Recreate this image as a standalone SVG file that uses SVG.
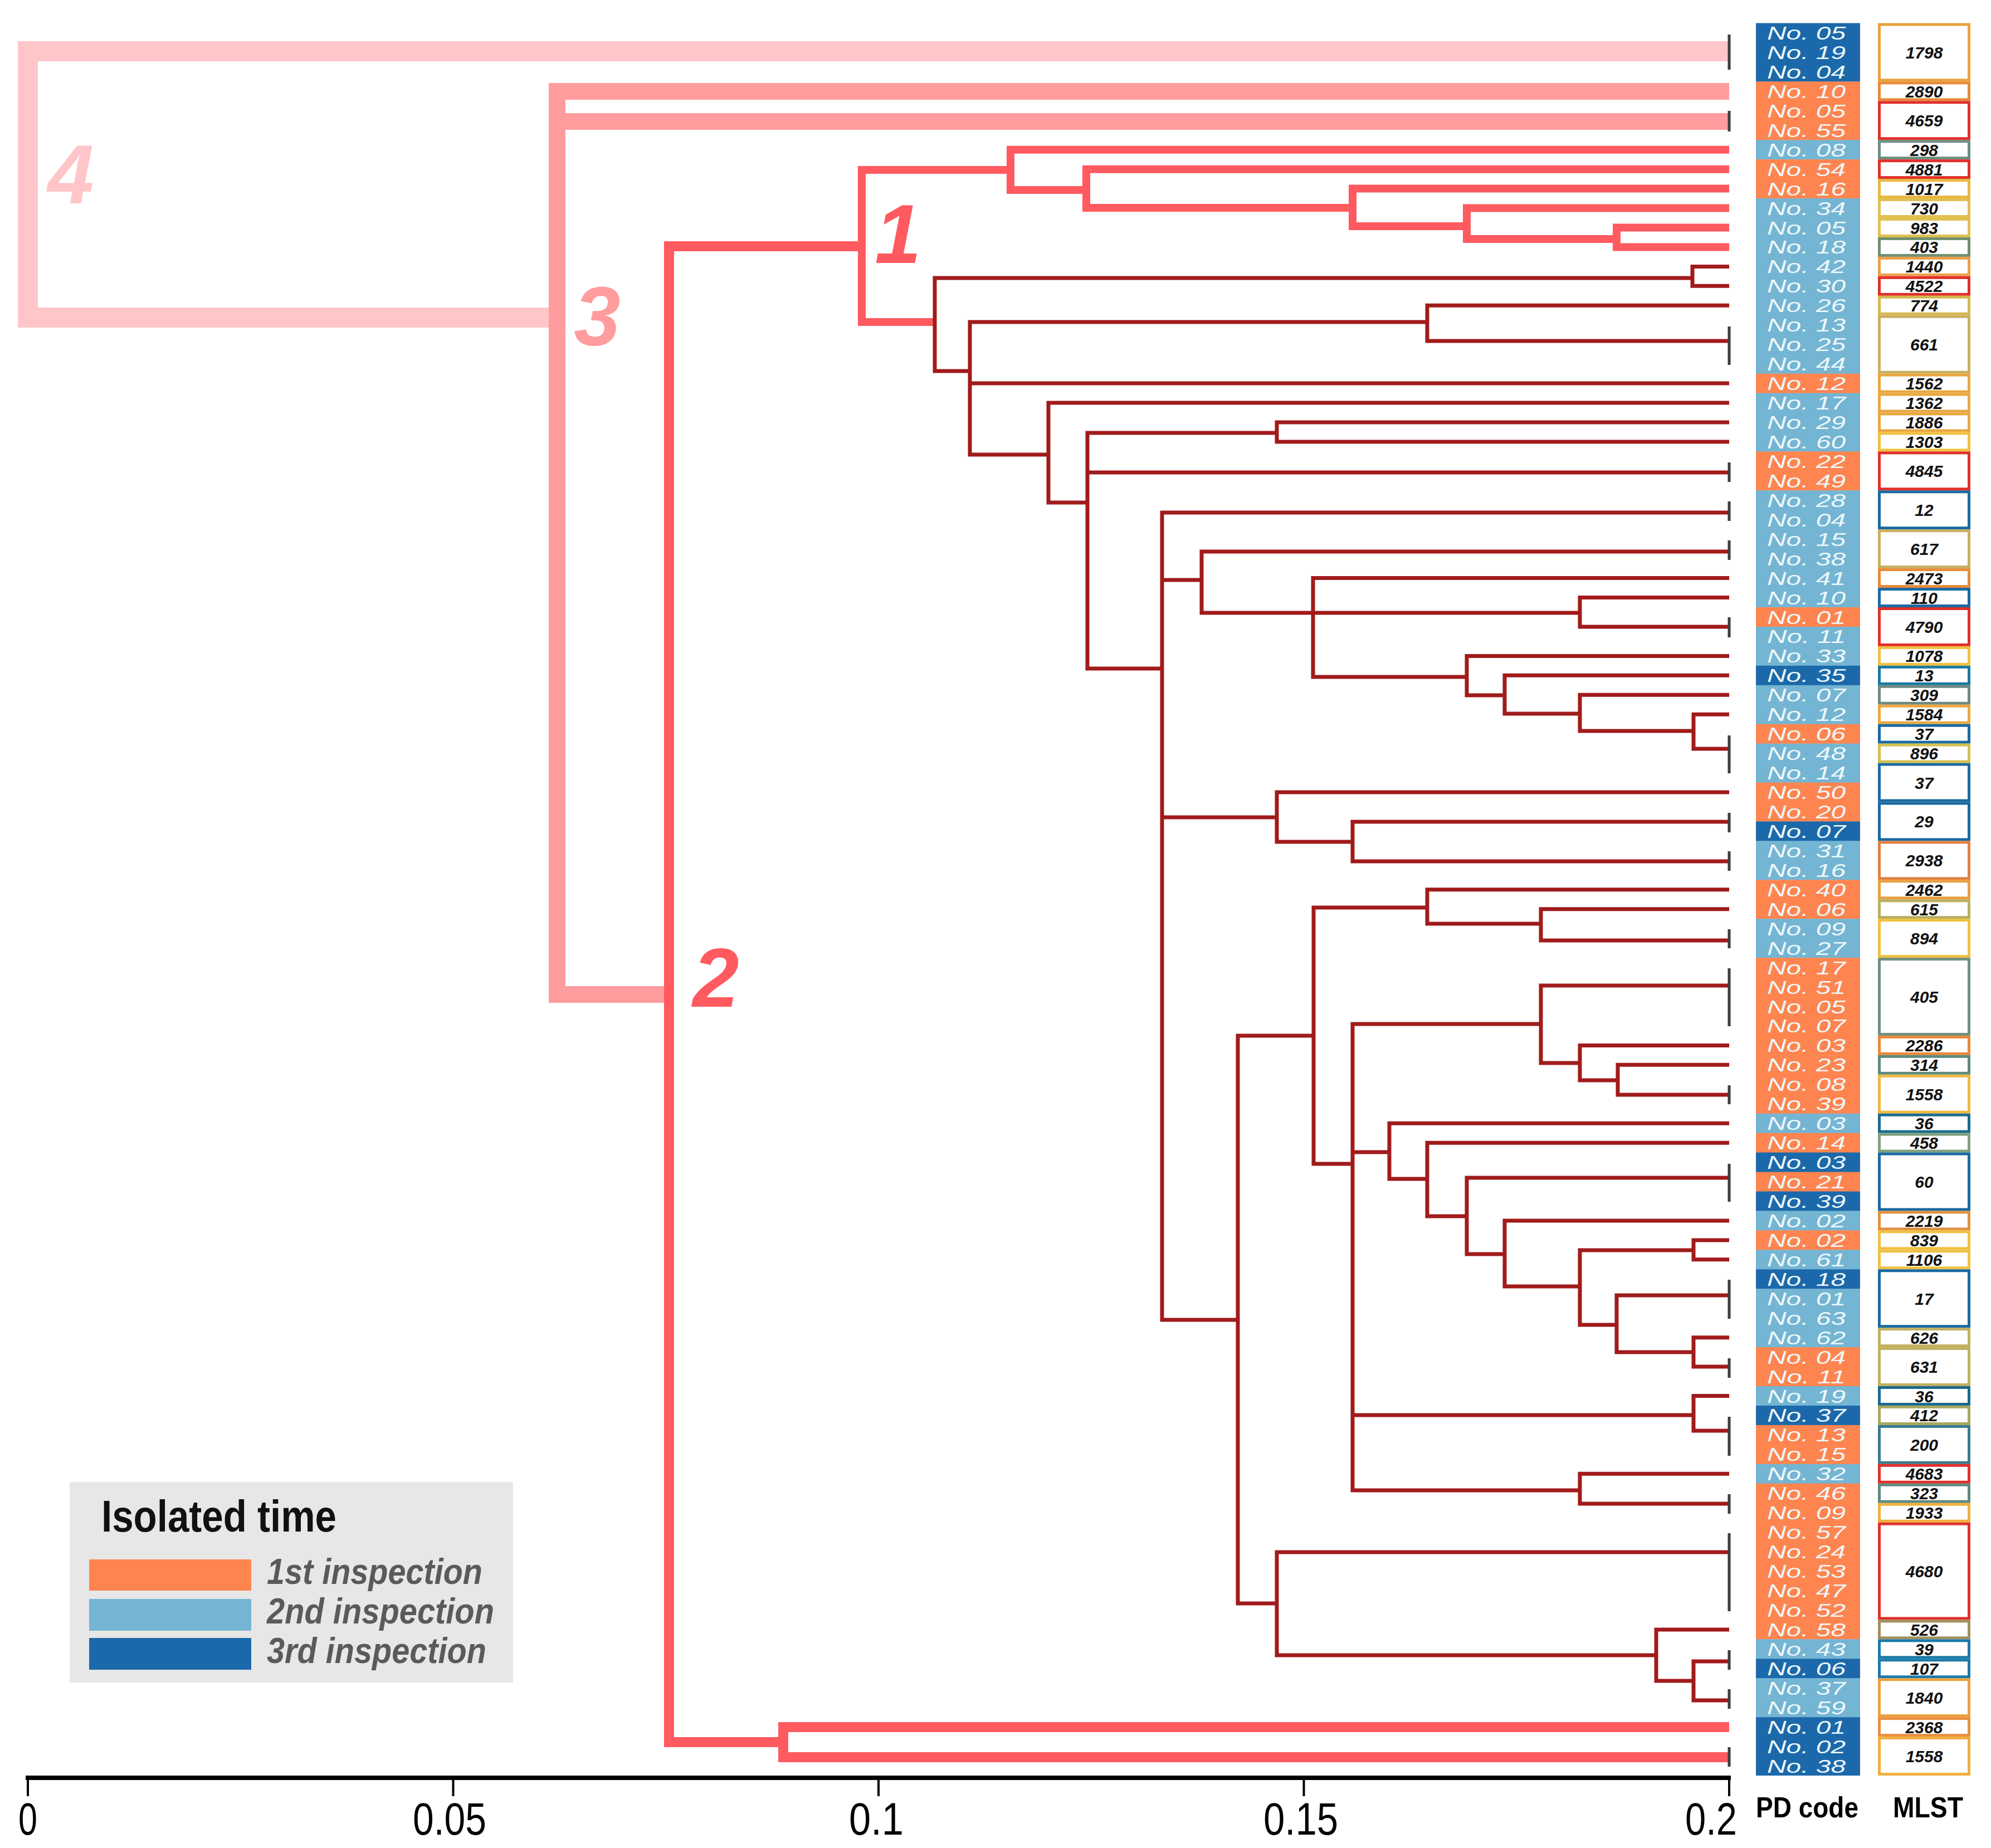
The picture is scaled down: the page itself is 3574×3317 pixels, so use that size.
<svg xmlns="http://www.w3.org/2000/svg" width="3574" height="3317" viewBox="0 0 3574 3317">
<style>
.c4{fill:none;stroke:#ffc6ca;stroke-width:36;stroke-linejoin:miter}
.c3{fill:none;stroke:#ff9c9e;stroke-width:30;stroke-linejoin:miter}
.c2{fill:none;stroke:#ff5a5f;stroke-width:18;stroke-linejoin:miter}
.c1{fill:none;stroke:#ff5a5f;stroke-width:14;stroke-linejoin:miter}
.dr{fill:none;stroke:#a11b1b;stroke-width:7;stroke-linejoin:miter}
.bar{fill:none;stroke:#3d3d3d;stroke-width:5}
.O{fill:#ff8550}.L{fill:#74b5d3}.D{fill:#1b69aa}
.pd{font-family:"Liberation Sans",Arial,sans-serif;font-style:italic;font-size:33px;fill:#eef8fb}
.ml{font-family:"Liberation Sans",Arial,sans-serif;font-style:italic;font-weight:bold;font-size:30px;text-anchor:middle;fill:#111}
.mb{fill:#fff;stroke-width:5}
.cl{font-family:"Liberation Sans",Arial,sans-serif;font-style:italic;font-weight:bold;font-size:150px;text-anchor:middle}
.ax{font-family:"Liberation Sans",Arial,sans-serif;font-size:82px;fill:#000}
.hd{font-family:"Liberation Sans",Arial,sans-serif;font-weight:bold;font-size:52px;fill:#000}
.lg{font-family:"Liberation Sans",Arial,sans-serif;font-weight:bold;font-style:italic;font-size:64px;fill:#5a5a5a}
</style>
<rect x="0" y="0" width="3574" height="3317" fill="#fff"/>
<g id="connectors">
<path class="c4" d="M3104 92H50V570H1000"/>
<path class="c3" d="M3104 164H1000V1785H1201"/>
<path class="c3" d="M1000 218H3104"/>
<path class="c2" d="M1547 442H1201V3127H1406"/>
<path class="c2" d="M3104 3100H1406V3154H3104"/>
<path class="c1" d="M1814 305H1547V578H1678"/>
<path class="c1" d="M3104 268.7H1814V341H1950"/>
<path class="c1" d="M3104 303.65H1950V373H2428"/>
<path class="c1" d="M3104 338.6H2428V406H2633"/>
<path class="c1" d="M3104 373.55H2633V429H2902"/>
<path class="c1" d="M3104 408.5H2902V443.45H3104"/>
<path class="dr" d="M3038 499H1678V666H1741"/>
<path class="dr" d="M3104 478.4H3038V513.35H3104"/>
<path class="dr" d="M2562 578H1741V816H1882"/>
<path class="dr" d="M1741 688.1H3104"/>
<path class="dr" d="M3104 548.3H2562V612H3104"/>
<path class="dr" d="M3104 723.05H1882V902H1952"/>
<path class="dr" d="M2292 777H1952V1200H2086"/>
<path class="dr" d="M1952 848H3104"/>
<path class="dr" d="M3104 758H2292V792.95H3104"/>
<path class="dr" d="M3104 920H2086V2369H2222"/>
<path class="dr" d="M2086 1041H2157"/>
<path class="dr" d="M2086 1467H2292"/>
<path class="dr" d="M3104 990H2157V1100H2836"/>
<path class="dr" d="M3104 1037.6H2357V1215H2633"/>
<path class="dr" d="M3104 1072.55H2836V1125H3104"/>
<path class="dr" d="M3104 1177.4H2633V1248H2701"/>
<path class="dr" d="M3104 1212.35H2701V1281H2836"/>
<path class="dr" d="M3104 1247.3H2836V1312H3040"/>
<path class="dr" d="M3104 1282.25H3040V1344H3104"/>
<path class="dr" d="M3104 1422.05H2292V1511H2428"/>
<path class="dr" d="M3104 1475H2428V1546H3104"/>
<path class="dr" d="M2358 1859H2222V2878H2292"/>
<path class="dr" d="M2562 1629H2358V2089H2428"/>
<path class="dr" d="M3104 1596.8H2562V1658H2766"/>
<path class="dr" d="M3104 1631.75H2766V1688H3104"/>
<path class="dr" d="M2766 1838H2428V2675H2836"/>
<path class="dr" d="M2428 2068H2494"/>
<path class="dr" d="M2428 2540H3040"/>
<path class="dr" d="M3104 1769H2766V1908H2836"/>
<path class="dr" d="M3104 1876.4H2836V1939H2904"/>
<path class="dr" d="M3104 1911.35H2904V1965H3104"/>
<path class="dr" d="M3104 2016.2H2494V2116H2562"/>
<path class="dr" d="M3104 2051.15H2562V2183H2633"/>
<path class="dr" d="M3104 2114H2633V2251H2701"/>
<path class="dr" d="M3104 2190.95H2701V2309H2836"/>
<path class="dr" d="M3040 2244H2836V2378H2902"/>
<path class="dr" d="M3104 2225.9H3040V2260.85H3104"/>
<path class="dr" d="M3104 2325H2902V2427H3040"/>
<path class="dr" d="M3104 2400.65H3040V2453H3104"/>
<path class="dr" d="M3104 2505.5H3040V2568H3104"/>
<path class="dr" d="M3104 2645.3H2836V2699H3104"/>
<path class="dr" d="M3104 2786H2292V2971H2973"/>
<path class="dr" d="M3104 2924.9H2973V3017H3040"/>
<path class="dr" d="M3104 2982H3040V3052H3104"/>
<path class="bar" d="M3104 62V125M3104 199V236M3104 586V655M3104 830V865M3104 900V935M3104 970V1005M3104 1108V1144M3104 1320V1388M3104 1459V1494M3104 1528V1563M3104 1668V1702M3104 1738V1842M3104 1948V1982M3104 2089V2157M3104 2297V2367M3104 2438V2473M3104 2543V2613M3104 2682V2717M3104 2752V2892M3104 2962V2997M3104 3032V3067M3104 3136V3171"/>
</g>
<g id="cluster-labels">
<text class="cl" x="127" y="365" fill="#ffc6ca">4</text>
<text class="cl" x="1072" y="620" fill="#ff9c9e">3</text>
<text class="cl" x="1612" y="472" fill="#ff5a5f">1</text>
<text class="cl" x="1285" y="1807" fill="#ff5a5f">2</text>
</g>
<g id="pd-code-column">
<rect class="D" x="3152" y="41.5" width="187" height="105.3"/>
<rect class="O" x="3152" y="146.35" width="187" height="105.3"/>
<rect class="L" x="3152" y="251.2" width="187" height="35.4"/>
<rect class="O" x="3152" y="286.15" width="187" height="70.3"/>
<rect class="L" x="3152" y="356.05" width="187" height="315"/>
<rect class="O" x="3152" y="670.6" width="187" height="35.4"/>
<rect class="L" x="3152" y="705.55" width="187" height="105.3"/>
<rect class="O" x="3152" y="810.4" width="187" height="70.3"/>
<rect class="L" x="3152" y="880.3" width="187" height="210.1"/>
<rect class="O" x="3152" y="1090" width="187" height="35.4"/>
<rect class="L" x="3152" y="1124.95" width="187" height="70.3"/>
<rect class="D" x="3152" y="1194.85" width="187" height="35.4"/>
<rect class="L" x="3152" y="1229.8" width="187" height="70.3"/>
<rect class="O" x="3152" y="1299.7" width="187" height="35.4"/>
<rect class="L" x="3152" y="1334.65" width="187" height="70.3"/>
<rect class="O" x="3152" y="1404.55" width="187" height="70.3"/>
<rect class="D" x="3152" y="1474.45" width="187" height="35.4"/>
<rect class="L" x="3152" y="1509.4" width="187" height="70.3"/>
<rect class="O" x="3152" y="1579.3" width="187" height="70.3"/>
<rect class="L" x="3152" y="1649.2" width="187" height="70.3"/>
<rect class="O" x="3152" y="1719.1" width="187" height="280"/>
<rect class="L" x="3152" y="1998.7" width="187" height="35.4"/>
<rect class="O" x="3152" y="2033.65" width="187" height="35.4"/>
<rect class="D" x="3152" y="2068.6" width="187" height="35.4"/>
<rect class="O" x="3152" y="2103.55" width="187" height="35.4"/>
<rect class="D" x="3152" y="2138.5" width="187" height="35.4"/>
<rect class="L" x="3152" y="2173.45" width="187" height="35.4"/>
<rect class="O" x="3152" y="2208.4" width="187" height="35.4"/>
<rect class="L" x="3152" y="2243.35" width="187" height="35.4"/>
<rect class="D" x="3152" y="2278.3" width="187" height="35.4"/>
<rect class="L" x="3152" y="2313.25" width="187" height="105.3"/>
<rect class="O" x="3152" y="2418.1" width="187" height="70.3"/>
<rect class="L" x="3152" y="2488" width="187" height="35.4"/>
<rect class="D" x="3152" y="2522.95" width="187" height="35.4"/>
<rect class="O" x="3152" y="2557.9" width="187" height="70.3"/>
<rect class="L" x="3152" y="2627.8" width="187" height="35.4"/>
<rect class="O" x="3152" y="2662.75" width="187" height="280"/>
<rect class="L" x="3152" y="2942.35" width="187" height="35.4"/>
<rect class="D" x="3152" y="2977.3" width="187" height="35.4"/>
<rect class="L" x="3152" y="3012.25" width="187" height="70.3"/>
<rect class="D" x="3152" y="3082.15" width="187" height="104.85"/>
<text class="pd" textLength="141" lengthAdjust="spacingAndGlyphs" x="3172" y="71">No. 05</text>
<text class="pd" textLength="141" lengthAdjust="spacingAndGlyphs" x="3172" y="105.95">No. 19</text>
<text class="pd" textLength="141" lengthAdjust="spacingAndGlyphs" x="3172" y="140.9">No. 04</text>
<text class="pd" textLength="141" lengthAdjust="spacingAndGlyphs" x="3172" y="175.85">No. 10</text>
<text class="pd" textLength="141" lengthAdjust="spacingAndGlyphs" x="3172" y="210.8">No. 05</text>
<text class="pd" textLength="141" lengthAdjust="spacingAndGlyphs" x="3172" y="245.75">No. 55</text>
<text class="pd" textLength="141" lengthAdjust="spacingAndGlyphs" x="3172" y="280.7">No. 08</text>
<text class="pd" textLength="141" lengthAdjust="spacingAndGlyphs" x="3172" y="315.65">No. 54</text>
<text class="pd" textLength="141" lengthAdjust="spacingAndGlyphs" x="3172" y="350.6">No. 16</text>
<text class="pd" textLength="141" lengthAdjust="spacingAndGlyphs" x="3172" y="385.55">No. 34</text>
<text class="pd" textLength="141" lengthAdjust="spacingAndGlyphs" x="3172" y="420.5">No. 05</text>
<text class="pd" textLength="141" lengthAdjust="spacingAndGlyphs" x="3172" y="455.45">No. 18</text>
<text class="pd" textLength="141" lengthAdjust="spacingAndGlyphs" x="3172" y="490.4">No. 42</text>
<text class="pd" textLength="141" lengthAdjust="spacingAndGlyphs" x="3172" y="525.35">No. 30</text>
<text class="pd" textLength="141" lengthAdjust="spacingAndGlyphs" x="3172" y="560.3">No. 26</text>
<text class="pd" textLength="141" lengthAdjust="spacingAndGlyphs" x="3172" y="595.25">No. 13</text>
<text class="pd" textLength="141" lengthAdjust="spacingAndGlyphs" x="3172" y="630.2">No. 25</text>
<text class="pd" textLength="141" lengthAdjust="spacingAndGlyphs" x="3172" y="665.15">No. 44</text>
<text class="pd" textLength="141" lengthAdjust="spacingAndGlyphs" x="3172" y="700.1">No. 12</text>
<text class="pd" textLength="141" lengthAdjust="spacingAndGlyphs" x="3172" y="735.05">No. 17</text>
<text class="pd" textLength="141" lengthAdjust="spacingAndGlyphs" x="3172" y="770">No. 29</text>
<text class="pd" textLength="141" lengthAdjust="spacingAndGlyphs" x="3172" y="804.95">No. 60</text>
<text class="pd" textLength="141" lengthAdjust="spacingAndGlyphs" x="3172" y="839.9">No. 22</text>
<text class="pd" textLength="141" lengthAdjust="spacingAndGlyphs" x="3172" y="874.85">No. 49</text>
<text class="pd" textLength="141" lengthAdjust="spacingAndGlyphs" x="3172" y="909.8">No. 28</text>
<text class="pd" textLength="141" lengthAdjust="spacingAndGlyphs" x="3172" y="944.75">No. 04</text>
<text class="pd" textLength="141" lengthAdjust="spacingAndGlyphs" x="3172" y="979.7">No. 15</text>
<text class="pd" textLength="141" lengthAdjust="spacingAndGlyphs" x="3172" y="1014.65">No. 38</text>
<text class="pd" textLength="141" lengthAdjust="spacingAndGlyphs" x="3172" y="1049.6">No. 41</text>
<text class="pd" textLength="141" lengthAdjust="spacingAndGlyphs" x="3172" y="1084.55">No. 10</text>
<text class="pd" textLength="141" lengthAdjust="spacingAndGlyphs" x="3172" y="1119.5">No. 01</text>
<text class="pd" textLength="141" lengthAdjust="spacingAndGlyphs" x="3172" y="1154.45">No. 11</text>
<text class="pd" textLength="141" lengthAdjust="spacingAndGlyphs" x="3172" y="1189.4">No. 33</text>
<text class="pd" textLength="141" lengthAdjust="spacingAndGlyphs" x="3172" y="1224.35">No. 35</text>
<text class="pd" textLength="141" lengthAdjust="spacingAndGlyphs" x="3172" y="1259.3">No. 07</text>
<text class="pd" textLength="141" lengthAdjust="spacingAndGlyphs" x="3172" y="1294.25">No. 12</text>
<text class="pd" textLength="141" lengthAdjust="spacingAndGlyphs" x="3172" y="1329.2">No. 06</text>
<text class="pd" textLength="141" lengthAdjust="spacingAndGlyphs" x="3172" y="1364.15">No. 48</text>
<text class="pd" textLength="141" lengthAdjust="spacingAndGlyphs" x="3172" y="1399.1">No. 14</text>
<text class="pd" textLength="141" lengthAdjust="spacingAndGlyphs" x="3172" y="1434.05">No. 50</text>
<text class="pd" textLength="141" lengthAdjust="spacingAndGlyphs" x="3172" y="1469">No. 20</text>
<text class="pd" textLength="141" lengthAdjust="spacingAndGlyphs" x="3172" y="1503.95">No. 07</text>
<text class="pd" textLength="141" lengthAdjust="spacingAndGlyphs" x="3172" y="1538.9">No. 31</text>
<text class="pd" textLength="141" lengthAdjust="spacingAndGlyphs" x="3172" y="1573.85">No. 16</text>
<text class="pd" textLength="141" lengthAdjust="spacingAndGlyphs" x="3172" y="1608.8">No. 40</text>
<text class="pd" textLength="141" lengthAdjust="spacingAndGlyphs" x="3172" y="1643.75">No. 06</text>
<text class="pd" textLength="141" lengthAdjust="spacingAndGlyphs" x="3172" y="1678.7">No. 09</text>
<text class="pd" textLength="141" lengthAdjust="spacingAndGlyphs" x="3172" y="1713.65">No. 27</text>
<text class="pd" textLength="141" lengthAdjust="spacingAndGlyphs" x="3172" y="1748.6">No. 17</text>
<text class="pd" textLength="141" lengthAdjust="spacingAndGlyphs" x="3172" y="1783.55">No. 51</text>
<text class="pd" textLength="141" lengthAdjust="spacingAndGlyphs" x="3172" y="1818.5">No. 05</text>
<text class="pd" textLength="141" lengthAdjust="spacingAndGlyphs" x="3172" y="1853.45">No. 07</text>
<text class="pd" textLength="141" lengthAdjust="spacingAndGlyphs" x="3172" y="1888.4">No. 03</text>
<text class="pd" textLength="141" lengthAdjust="spacingAndGlyphs" x="3172" y="1923.35">No. 23</text>
<text class="pd" textLength="141" lengthAdjust="spacingAndGlyphs" x="3172" y="1958.3">No. 08</text>
<text class="pd" textLength="141" lengthAdjust="spacingAndGlyphs" x="3172" y="1993.25">No. 39</text>
<text class="pd" textLength="141" lengthAdjust="spacingAndGlyphs" x="3172" y="2028.2">No. 03</text>
<text class="pd" textLength="141" lengthAdjust="spacingAndGlyphs" x="3172" y="2063.15">No. 14</text>
<text class="pd" textLength="141" lengthAdjust="spacingAndGlyphs" x="3172" y="2098.1">No. 03</text>
<text class="pd" textLength="141" lengthAdjust="spacingAndGlyphs" x="3172" y="2133.05">No. 21</text>
<text class="pd" textLength="141" lengthAdjust="spacingAndGlyphs" x="3172" y="2168">No. 39</text>
<text class="pd" textLength="141" lengthAdjust="spacingAndGlyphs" x="3172" y="2202.95">No. 02</text>
<text class="pd" textLength="141" lengthAdjust="spacingAndGlyphs" x="3172" y="2237.9">No. 02</text>
<text class="pd" textLength="141" lengthAdjust="spacingAndGlyphs" x="3172" y="2272.85">No. 61</text>
<text class="pd" textLength="141" lengthAdjust="spacingAndGlyphs" x="3172" y="2307.8">No. 18</text>
<text class="pd" textLength="141" lengthAdjust="spacingAndGlyphs" x="3172" y="2342.75">No. 01</text>
<text class="pd" textLength="141" lengthAdjust="spacingAndGlyphs" x="3172" y="2377.7">No. 63</text>
<text class="pd" textLength="141" lengthAdjust="spacingAndGlyphs" x="3172" y="2412.65">No. 62</text>
<text class="pd" textLength="141" lengthAdjust="spacingAndGlyphs" x="3172" y="2447.6">No. 04</text>
<text class="pd" textLength="141" lengthAdjust="spacingAndGlyphs" x="3172" y="2482.55">No. 11</text>
<text class="pd" textLength="141" lengthAdjust="spacingAndGlyphs" x="3172" y="2517.5">No. 19</text>
<text class="pd" textLength="141" lengthAdjust="spacingAndGlyphs" x="3172" y="2552.45">No. 37</text>
<text class="pd" textLength="141" lengthAdjust="spacingAndGlyphs" x="3172" y="2587.4">No. 13</text>
<text class="pd" textLength="141" lengthAdjust="spacingAndGlyphs" x="3172" y="2622.35">No. 15</text>
<text class="pd" textLength="141" lengthAdjust="spacingAndGlyphs" x="3172" y="2657.3">No. 32</text>
<text class="pd" textLength="141" lengthAdjust="spacingAndGlyphs" x="3172" y="2692.25">No. 46</text>
<text class="pd" textLength="141" lengthAdjust="spacingAndGlyphs" x="3172" y="2727.2">No. 09</text>
<text class="pd" textLength="141" lengthAdjust="spacingAndGlyphs" x="3172" y="2762.15">No. 57</text>
<text class="pd" textLength="141" lengthAdjust="spacingAndGlyphs" x="3172" y="2797.1">No. 24</text>
<text class="pd" textLength="141" lengthAdjust="spacingAndGlyphs" x="3172" y="2832.05">No. 53</text>
<text class="pd" textLength="141" lengthAdjust="spacingAndGlyphs" x="3172" y="2867">No. 47</text>
<text class="pd" textLength="141" lengthAdjust="spacingAndGlyphs" x="3172" y="2901.95">No. 52</text>
<text class="pd" textLength="141" lengthAdjust="spacingAndGlyphs" x="3172" y="2936.9">No. 58</text>
<text class="pd" textLength="141" lengthAdjust="spacingAndGlyphs" x="3172" y="2971.85">No. 43</text>
<text class="pd" textLength="141" lengthAdjust="spacingAndGlyphs" x="3172" y="3006.8">No. 06</text>
<text class="pd" textLength="141" lengthAdjust="spacingAndGlyphs" x="3172" y="3041.75">No. 37</text>
<text class="pd" textLength="141" lengthAdjust="spacingAndGlyphs" x="3172" y="3076.7">No. 59</text>
<text class="pd" textLength="141" lengthAdjust="spacingAndGlyphs" x="3172" y="3111.65">No. 01</text>
<text class="pd" textLength="141" lengthAdjust="spacingAndGlyphs" x="3172" y="3146.6">No. 02</text>
<text class="pd" textLength="141" lengthAdjust="spacingAndGlyphs" x="3172" y="3181.55">No. 38</text>
</g>
<g id="mlst-column">
<rect class="mb" stroke="#e9a23b" x="3373.5" y="44" width="161" height="99.85"/>
<rect class="mb" stroke="#e88a3a" x="3373.5" y="148.85" width="161" height="29.95"/>
<rect class="mb" stroke="#e0302a" x="3373.5" y="183.8" width="161" height="64.9"/>
<rect class="mb" stroke="#6e8e80" x="3373.5" y="253.7" width="161" height="29.95"/>
<rect class="mb" stroke="#e0302a" x="3373.5" y="288.65" width="161" height="29.95"/>
<rect class="mb" stroke="#e8b840" x="3373.5" y="323.6" width="161" height="29.95"/>
<rect class="mb" stroke="#e0c050" x="3373.5" y="358.55" width="161" height="29.95"/>
<rect class="mb" stroke="#e0c050" x="3373.5" y="393.5" width="161" height="29.95"/>
<rect class="mb" stroke="#6f9070" x="3373.5" y="428.45" width="161" height="29.95"/>
<rect class="mb" stroke="#eba04a" x="3373.5" y="463.4" width="161" height="29.95"/>
<rect class="mb" stroke="#e0302a" x="3373.5" y="498.35" width="161" height="29.95"/>
<rect class="mb" stroke="#d4b850" x="3373.5" y="533.3" width="161" height="29.95"/>
<rect class="mb" stroke="#c8b060" x="3373.5" y="568.25" width="161" height="99.85"/>
<rect class="mb" stroke="#e8a840" x="3373.5" y="673.1" width="161" height="29.95"/>
<rect class="mb" stroke="#e8a840" x="3373.5" y="708.05" width="161" height="29.95"/>
<rect class="mb" stroke="#e8a840" x="3373.5" y="743" width="161" height="29.95"/>
<rect class="mb" stroke="#f0c040" x="3373.5" y="777.95" width="161" height="29.95"/>
<rect class="mb" stroke="#e0302a" x="3373.5" y="812.9" width="161" height="64.9"/>
<rect class="mb" stroke="#1a6aa0" x="3373.5" y="882.8" width="161" height="64.9"/>
<rect class="mb" stroke="#c8b060" x="3373.5" y="952.7" width="161" height="64.9"/>
<rect class="mb" stroke="#e88a3a" x="3373.5" y="1022.6" width="161" height="29.95"/>
<rect class="mb" stroke="#1a6aa0" x="3373.5" y="1057.55" width="161" height="29.95"/>
<rect class="mb" stroke="#e0302a" x="3373.5" y="1092.5" width="161" height="64.9"/>
<rect class="mb" stroke="#f0c040" x="3373.5" y="1162.4" width="161" height="29.95"/>
<rect class="mb" stroke="#1a7aa0" x="3373.5" y="1197.35" width="161" height="29.95"/>
<rect class="mb" stroke="#6f8a80" x="3373.5" y="1232.3" width="161" height="29.95"/>
<rect class="mb" stroke="#eba840" x="3373.5" y="1267.25" width="161" height="29.95"/>
<rect class="mb" stroke="#1a6aa0" x="3373.5" y="1302.2" width="161" height="29.95"/>
<rect class="mb" stroke="#d4c050" x="3373.5" y="1337.15" width="161" height="29.95"/>
<rect class="mb" stroke="#1a6aa0" x="3373.5" y="1372.1" width="161" height="64.9"/>
<rect class="mb" stroke="#1a6aa0" x="3373.5" y="1442" width="161" height="64.9"/>
<rect class="mb" stroke="#e08040" x="3373.5" y="1511.9" width="161" height="64.9"/>
<rect class="mb" stroke="#e8a040" x="3373.5" y="1581.8" width="161" height="29.95"/>
<rect class="mb" stroke="#b8b060" x="3373.5" y="1616.75" width="161" height="29.95"/>
<rect class="mb" stroke="#f0c040" x="3373.5" y="1651.7" width="161" height="64.9"/>
<rect class="mb" stroke="#6f9080" x="3373.5" y="1721.6" width="161" height="134.8"/>
<rect class="mb" stroke="#e88a3a" x="3373.5" y="1861.4" width="161" height="29.95"/>
<rect class="mb" stroke="#5f8a80" x="3373.5" y="1896.35" width="161" height="29.95"/>
<rect class="mb" stroke="#f0b840" x="3373.5" y="1931.3" width="161" height="64.9"/>
<rect class="mb" stroke="#1a6a90" x="3373.5" y="2001.2" width="161" height="29.95"/>
<rect class="mb" stroke="#80a080" x="3373.5" y="2036.15" width="161" height="29.95"/>
<rect class="mb" stroke="#1a6aa0" x="3373.5" y="2071.1" width="161" height="99.85"/>
<rect class="mb" stroke="#e09040" x="3373.5" y="2175.95" width="161" height="29.95"/>
<rect class="mb" stroke="#f0c040" x="3373.5" y="2210.9" width="161" height="29.95"/>
<rect class="mb" stroke="#f0c040" x="3373.5" y="2245.85" width="161" height="29.95"/>
<rect class="mb" stroke="#1a6aa0" x="3373.5" y="2280.8" width="161" height="99.85"/>
<rect class="mb" stroke="#c0b060" x="3373.5" y="2385.65" width="161" height="29.95"/>
<rect class="mb" stroke="#c0b060" x="3373.5" y="2420.6" width="161" height="64.9"/>
<rect class="mb" stroke="#1a6a90" x="3373.5" y="2490.5" width="161" height="29.95"/>
<rect class="mb" stroke="#a8a860" x="3373.5" y="2525.45" width="161" height="29.95"/>
<rect class="mb" stroke="#3a7a90" x="3373.5" y="2560.4" width="161" height="64.9"/>
<rect class="mb" stroke="#e0302a" x="3373.5" y="2630.3" width="161" height="29.95"/>
<rect class="mb" stroke="#5f8a80" x="3373.5" y="2665.25" width="161" height="29.95"/>
<rect class="mb" stroke="#f0b040" x="3373.5" y="2700.2" width="161" height="29.95"/>
<rect class="mb" stroke="#e0302a" x="3373.5" y="2735.15" width="161" height="169.75"/>
<rect class="mb" stroke="#a09060" x="3373.5" y="2909.9" width="161" height="29.95"/>
<rect class="mb" stroke="#1a7aa8" x="3373.5" y="2944.85" width="161" height="29.95"/>
<rect class="mb" stroke="#1a7aa8" x="3373.5" y="2979.8" width="161" height="29.95"/>
<rect class="mb" stroke="#eba040" x="3373.5" y="3014.75" width="161" height="64.9"/>
<rect class="mb" stroke="#e89040" x="3373.5" y="3084.65" width="161" height="29.95"/>
<rect class="mb" stroke="#f0b040" x="3373.5" y="3119.6" width="161" height="64.9"/>
<text class="ml" x="3454" y="104.9">1798</text>
<text class="ml" x="3454" y="174.8">2890</text>
<text class="ml" x="3454" y="227.25">4659</text>
<text class="ml" x="3454" y="279.7">298</text>
<text class="ml" x="3454" y="314.6">4881</text>
<text class="ml" x="3454" y="349.6">1017</text>
<text class="ml" x="3454" y="384.5">730</text>
<text class="ml" x="3454" y="419.5">983</text>
<text class="ml" x="3454" y="454.4">403</text>
<text class="ml" x="3454" y="489.4">1440</text>
<text class="ml" x="3454" y="524.3">4522</text>
<text class="ml" x="3454" y="559.3">774</text>
<text class="ml" x="3454" y="629.2">661</text>
<text class="ml" x="3454" y="699.1">1562</text>
<text class="ml" x="3454" y="734.05">1362</text>
<text class="ml" x="3454" y="769">1886</text>
<text class="ml" x="3454" y="803.95">1303</text>
<text class="ml" x="3454" y="856.35">4845</text>
<text class="ml" x="3454" y="926.25">12</text>
<text class="ml" x="3454" y="996.15">617</text>
<text class="ml" x="3454" y="1048.6">2473</text>
<text class="ml" x="3454" y="1083.55">110</text>
<text class="ml" x="3454" y="1135.95">4790</text>
<text class="ml" x="3454" y="1188.4">1078</text>
<text class="ml" x="3454" y="1223.35">13</text>
<text class="ml" x="3454" y="1258.3">309</text>
<text class="ml" x="3454" y="1293.25">1584</text>
<text class="ml" x="3454" y="1328.2">37</text>
<text class="ml" x="3454" y="1363.15">896</text>
<text class="ml" x="3454" y="1415.55">37</text>
<text class="ml" x="3454" y="1485.45">29</text>
<text class="ml" x="3454" y="1555.35">2938</text>
<text class="ml" x="3454" y="1607.8">2462</text>
<text class="ml" x="3454" y="1642.75">615</text>
<text class="ml" x="3454" y="1695.15">894</text>
<text class="ml" x="3454" y="1800">405</text>
<text class="ml" x="3454" y="1887.4">2286</text>
<text class="ml" x="3454" y="1922.35">314</text>
<text class="ml" x="3454" y="1974.75">1558</text>
<text class="ml" x="3454" y="2027.2">36</text>
<text class="ml" x="3454" y="2062.15">458</text>
<text class="ml" x="3454" y="2132.05">60</text>
<text class="ml" x="3454" y="2201.95">2219</text>
<text class="ml" x="3454" y="2236.9">839</text>
<text class="ml" x="3454" y="2271.85">1106</text>
<text class="ml" x="3454" y="2341.75">17</text>
<text class="ml" x="3454" y="2411.65">626</text>
<text class="ml" x="3454" y="2464.05">631</text>
<text class="ml" x="3454" y="2516.5">36</text>
<text class="ml" x="3454" y="2551.45">412</text>
<text class="ml" x="3454" y="2603.85">200</text>
<text class="ml" x="3454" y="2656.3">4683</text>
<text class="ml" x="3454" y="2691.25">323</text>
<text class="ml" x="3454" y="2726.2">1933</text>
<text class="ml" x="3454" y="2831.05">4680</text>
<text class="ml" x="3454" y="2935.9">526</text>
<text class="ml" x="3454" y="2970.85">39</text>
<text class="ml" x="3454" y="3005.8">107</text>
<text class="ml" x="3454" y="3058.2">1840</text>
<text class="ml" x="3454" y="3110.65">2368</text>
<text class="ml" x="3454" y="3163.05">1558</text>
</g>
<g id="column-headers">
<text class="hd" x="3152" y="3262" textLength="184" lengthAdjust="spacingAndGlyphs">PD code</text>
<text class="hd" x="3398" y="3262" textLength="126" lengthAdjust="spacingAndGlyphs">MLST</text>
</g>
<g id="axis">
<path d="M46 3191H3107" stroke="#000" stroke-width="8" fill="none"/>
<path d="M50 3191V3224M813.5 3191V3224M1577 3191V3224M2340.5 3191V3224M3104 3191V3224" stroke="#000" stroke-width="4" fill="none"/>
<text class="ax" x="33" y="3293" textLength="34" lengthAdjust="spacingAndGlyphs">0</text>
<text class="ax" x="741" y="3293" textLength="132" lengthAdjust="spacingAndGlyphs">0.05</text>
<text class="ax" x="1524" y="3293" textLength="98" lengthAdjust="spacingAndGlyphs">0.1</text>
<text class="ax" x="2268" y="3293" textLength="134" lengthAdjust="spacingAndGlyphs">0.15</text>
<text class="ax" x="3025" y="3293" textLength="93" lengthAdjust="spacingAndGlyphs">0.2</text>
</g>
<g id="legend">
<rect x="125" y="2660" width="796" height="360" fill="#e7e7e7"/>
<text x="182" y="2749" font-family="Liberation Sans, Arial, sans-serif" font-weight="bold" font-size="80" fill="#111" textLength="422" lengthAdjust="spacingAndGlyphs">Isolated time</text>
<rect class="O" x="160" y="2799" width="291" height="56"/>
<rect class="L" x="160" y="2870" width="291" height="57"/>
<rect class="D" x="160" y="2940" width="291" height="57"/>
<text class="lg" x="479" y="2843" textLength="387" lengthAdjust="spacingAndGlyphs">1st inspection</text>
<text class="lg" x="479" y="2914" textLength="408" lengthAdjust="spacingAndGlyphs">2nd inspection</text>
<text class="lg" x="479" y="2985" textLength="394" lengthAdjust="spacingAndGlyphs">3rd inspection</text>
</g>
</svg>
